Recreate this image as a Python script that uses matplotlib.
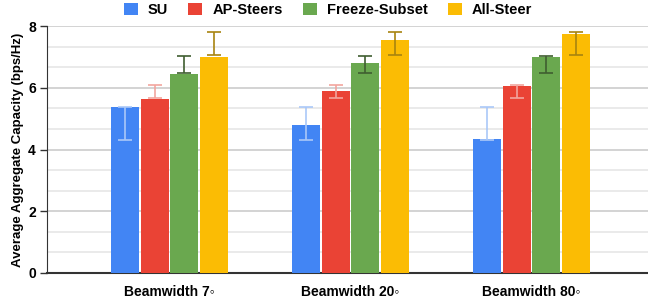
import matplotlib
matplotlib.use("Agg")
import matplotlib.pyplot as plt
import numpy as np
from matplotlib.ticker import MultipleLocator

plt.rcParams['font.family'] = ['Liberation Sans', 'DejaVu Sans']

groups = ["Beamwidth 7\u25e6", "Beamwidth 20\u25e6", "Beamwidth 80\u25e6"]
series = ["SU", "AP-Steers", "Freeze-Subset", "All-Steer"]
su = [5.38, 4.80, 4.33]
ap_steers = [5.63, 5.88, 6.05]
freeze_subset = [6.46, 6.81, 6.98]
all_steer = [6.98, 7.55, 7.73]
# error ranges (absolute low / high), same for each group
err_low = [4.31, 5.66, 6.48, 7.06]
err_high = [5.38, 6.08, 7.04, 7.81]

colors = ["#4285F4", "#EA4335", "#6AA84F", "#FBBC04"]
err_colors = ["#aac8f8", "#f2a59e", "#3f5e30", "#a88410"]

values = [su, ap_steers, freeze_subset, all_steer]

fig = plt.figure(figsize=(6.48, 2.98), dpi=100)
ax = fig.add_axes([47/648, 25/298, (648-47)/648, 247/298])

x = np.arange(len(groups))
step = 0.1636
width = 0.156
for i, (name, vals) in enumerate(zip(series, values)):
    pos = x + (i - 1.5) * step
    ax.bar(pos, vals, width, color=colors[i], label=name, zorder=3)
    mid = (err_low[i] + err_high[i]) / 2
    half = (err_high[i] - err_low[i]) / 2
    ax.errorbar(pos, [mid]*len(pos), yerr=half, fmt='none', ecolor=err_colors[i],
                elinewidth=1.2, capsize=5, capthick=1.2, zorder=4)

ax.set_xlim(-0.677, 2.644)
ax.set_ylim(0, 8)
ax.yaxis.set_major_locator(MultipleLocator(2))
ax.yaxis.set_minor_locator(MultipleLocator(2/3))
ax.grid(axis='y', which='major', color='#cccccc', linewidth=1.2, zorder=0)
ax.grid(axis='y', which='minor', color='#e6e6e6', linewidth=1.2, zorder=0)
ax.set_axisbelow(True)
ax.tick_params(axis='y', which='minor', length=0)
ax.tick_params(axis='y', which='major', length=5, width=1, color='#333333', labelsize=10, pad=3)
ax.tick_params(axis='x', length=0, labelsize=10, pad=9)
ax.set_xticks(x)
ax.set_xticklabels(groups, fontweight='bold')
for lab in ax.get_yticklabels():
    lab.set_fontweight('bold')
ax.set_ylabel("Average Aggregate Capacity (bps/Hz)", fontsize=9.5, fontweight='bold', labelpad=3)

for s in ['top', 'right']:
    ax.spines[s].set_visible(False)
ax.spines['left'].set_color('#333333')
ax.spines['bottom'].set_color('#333333')
ax.spines['bottom'].set_linewidth(1.5)

fig.legend(loc='center', bbox_to_anchor=(328/648, 1 - 10/298), ncol=4, frameon=False,
           prop={'weight': 'bold', 'size': 10.5}, handlelength=0.95, handleheight=0.95,
           columnspacing=1.4, handletextpad=0.68)

fig.savefig("out.png", dpi=100)
